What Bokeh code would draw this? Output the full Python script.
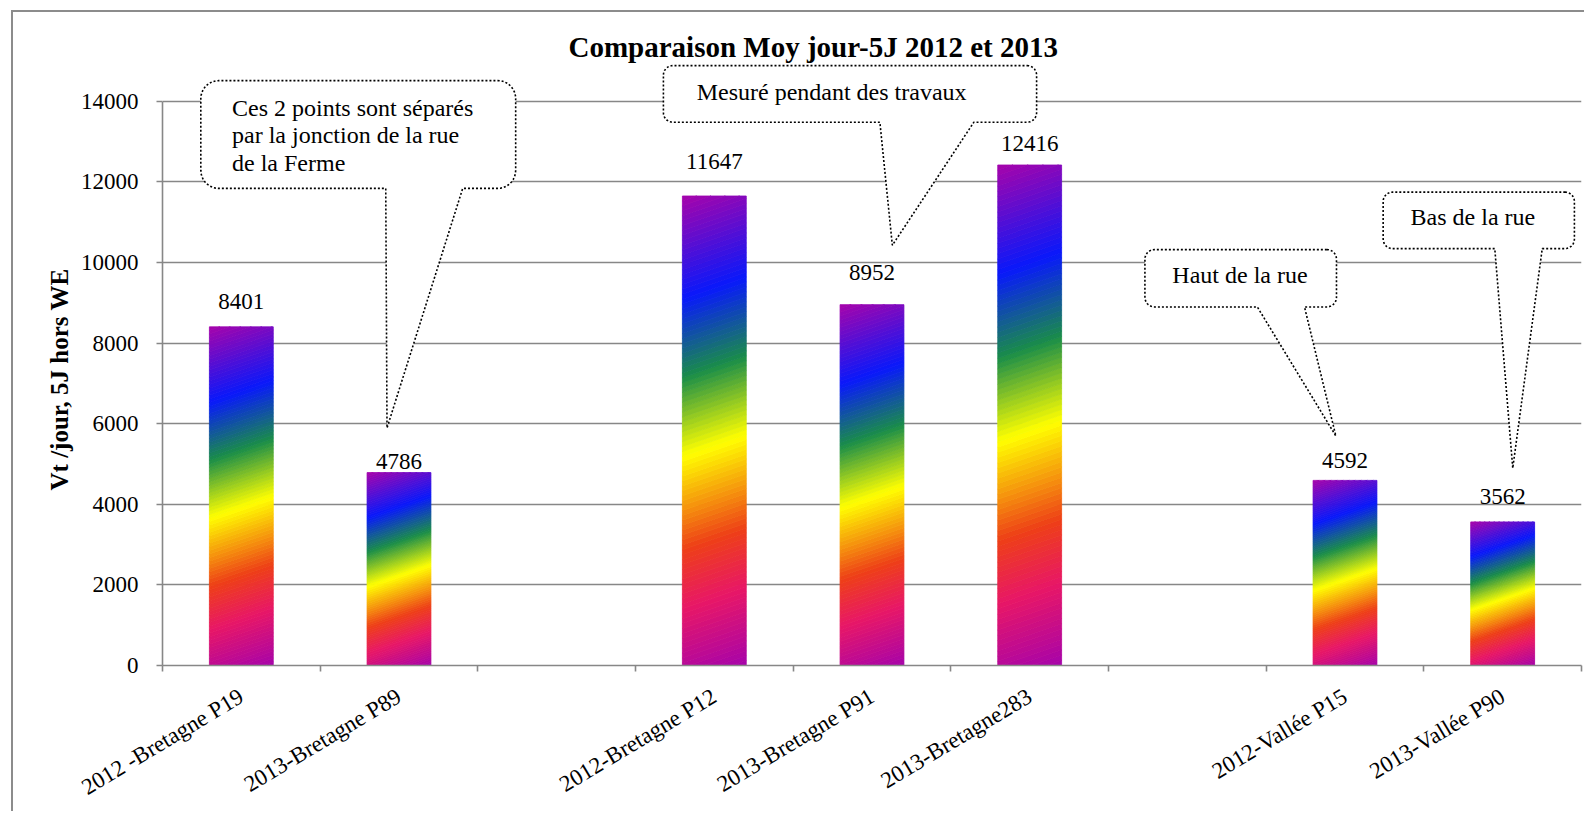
import numpy as np
from bokeh.plotting import figure
from bokeh.models import Range1d, FixedTicker, ColumnDataSource, LabelSet, Title
from bokeh.embed import file_html
from bokeh.resources import INLINE
from bokeh.core.properties import value

# ---------------- data ----------------
categories = ["2012 -Bretagne P19", "2013-Bretagne P89", "", "2012-Bretagne P12",
              "2013-Bretagne P91", "2013-Bretagne283", "", "2012-Vallée P15", "2013-Vallée P90"]
values = [8401, 4786, None, 11647, 8952, 12416, None, 4592, 3562]
y_tick_values = [0, 2000, 4000, 6000, 8000, 10000, 12000, 14000]
title_text = "Comparaison Moy jour-5J 2012 et 2013"
y_axis_label = "Vt /jour, 5J hors WE"

# callout texts (annotations)
callout_texts = [
    ["Ces 2 points sont séparés", "par la jonction de la  rue", "de la Ferme"],
    ["Mesuré pendant des travaux"],
    ["Haut de la rue"],
    ["Bas de la rue"],
]

# ---------------- layout / style ----------------
FONT = "Liberation Serif"
GRID = "#878787"
W, H = 1573, 801
MB_L, MB_R, MB_T, MB_B = 149, 5, 50, 147
x_start, x_end = 0.5, len(categories) + 0.5
px_per_x = (W - MB_L - MB_R) / (x_end - x_start)
px_per_y = 565.3 / 14000.0
y_end = (H - MB_T - MB_B) / px_per_y
bar_w = 0.405
tilt = 22 / px_per_y            # gradient tilt (px -> data)
label_lift = [18, 4, None, 27, 25, 14, None, 12, 18]   # px above bar top

stop_pos = [0.0, 0.16, 0.28, 0.47, 0.63, 0.79, 1.0]
stop_col = ["#A603AB", "#E81766", "#EE3F17", "#FFFF00", "#1A8D48", "#0819FB", "#A603AB"]

# callout geometry (box x0,x1,y0,y1 ; tail base xl,xr ; tip x,y ; text x, first baseline y)
callout_geom = [
    dict(box=(0.743, 2.740, 11835, 14510), tail=(1.916, 2.404), tip=(1.924, 5892), txt=(0.941, 13643)),
    dict(box=(3.677, 6.044, 13477, 14881), tail=(5.050, 5.646), tip=(5.129, 10424), txt=(3.888, 14032)),
    dict(box=(6.731, 7.946, 8895, 10317), tail=(7.444, 7.743), tip=(7.942, 5693), txt=(6.905, 9490)),
    dict(box=(8.242, 9.455, 10342, 11743), tail=(8.950, 9.251), tip=(9.064, 4894), txt=(8.416, 10919)),
]
line_step_px = 27.5


def hex2rgb(h):
    h = h.lstrip("#")
    return np.array([int(h[i:i + 2], 16) for i in (0, 2, 4)], dtype=float)


stop_rgb = [hex2rgb(c) for c in stop_col]


def grad_color(s):
    for k in range(len(stop_pos) - 1):
        if stop_pos[k] <= s <= stop_pos[k + 1]:
            t = (s - stop_pos[k]) / (stop_pos[k + 1] - stop_pos[k])
            c = stop_rgb[k] * (1 - t) + stop_rgb[k + 1] * t
            return "#%02x%02x%02x" % tuple(int(round(v)) for v in c)
    return stop_col[-1]


def clip_y(poly, c, keep_above):
    out = []
    n = len(poly)
    for i in range(n):
        p1 = poly[i]
        p2 = poly[(i + 1) % n]
        in1 = p1[1] >= c if keep_above else p1[1] <= c
        in2 = p2[1] >= c if keep_above else p2[1] <= c
        if in1:
            out.append(p1)
        if in1 != in2:
            t = (c - p1[1]) / (p2[1] - p1[1])
            out.append((p1[0] + t * (p2[0] - p1[0]), c))
    return out


# ---------------- figure ----------------
p = figure(width=W, height=H, x_range=Range1d(x_start, x_end), y_range=Range1d(0, y_end),
           output_backend="svg", toolbar_location=None,
           min_border_left=MB_L, min_border_right=MB_R, min_border_top=MB_T, min_border_bottom=MB_B,
           outline_line_color=None, background_fill_color="white", border_fill_color="white",
           title=title_text)
p.styles = {"border-left": "2px solid #8c8c8c", "border-top": "2px solid #8c8c8c",
            "margin-left": "11px", "margin-top": "10px"}

p.title.align = "left"
p.title.offset = 406
p.title.standoff = 0
p.title.text_font = FONT
p.title.text_font_size = "29px"
p.title.text_font_style = "bold"
p.title.text_color = "black"

# gradient bars
xs, ys, cols = [], [], []
N = 100
for i, v in enumerate(values):
    if v is None:
        continue
    xc = i + 1
    x0, x1 = xc - bar_w / 2, xc + bar_w / 2
    L = v + tilt
    for k in range(N):
        sa, sb = k / N, (k + 1) / N
        a, b = sa * L, sb * L
        poly = [(x0, a - tilt), (x1, a), (x1, b), (x0, b - tilt)]
        poly = clip_y(poly, 0.0, True)
        if len(poly) < 3:
            continue
        poly = clip_y(poly, float(v), False)
        if len(poly) < 3:
            continue
        xs.append([q[0] for q in poly])
        ys.append([q[1] for q in poly])
        cols.append(grad_color((sa + sb) / 2))

p.patches(xs=xs, ys=ys, fill_color=cols, line_color=cols, line_width=0.8)

bar_x = [i + 1 for i, v in enumerate(values) if v is not None]
bar_v = [v for v in values if v is not None]
p.vbar(x=bar_x, top=bar_v, width=bar_w, fill_alpha=0, line_alpha=0)

# data labels
lab_src = ColumnDataSource(dict(
    x=bar_x, y=bar_v, t=[str(v) for v in bar_v],
    off=[label_lift[i] for i, v in enumerate(values) if v is not None]))
p.add_layout(LabelSet(x="x", y="y", text="t", y_offset="off", source=lab_src, text_align="center",
                      text_baseline="alphabetic", text_font=value(FONT), text_font_size="23px",
                      text_color="black"))

# callouts
for geom, lines in zip(callout_geom, callout_texts):
    bx0, bx1, by0, by1 = geom["box"]
    tl, tr = geom["tail"]
    tx, ty = geom["tip"]
    wpx = (bx1 - bx0) * px_per_x
    hpx = (by1 - by0) * px_per_y
    rpx = 0.1667 * min(wpx, hpx)
    rx, ry = rpx / px_per_x, rpx / px_per_y
    pts = []

    def arc(cx, cy, a0, a1):
        for a in np.linspace(a0, a1, 10):
            pts.append((cx + rx * np.cos(a), cy + ry * np.sin(a)))

    arc(bx1 - rx, by1 - ry, np.pi / 2, 0)
    arc(bx1 - rx, by0 + ry, 0, -np.pi / 2)
    pts.append((tr, by0))
    pts.append((tx, ty))
    pts.append((tl, by0))
    arc(bx0 + rx, by0 + ry, -np.pi / 2, -np.pi)
    arc(bx0 + rx, by1 - ry, np.pi, np.pi / 2)
    p.patch([q[0] for q in pts], [q[1] for q in pts], fill_color="white",
            line_color="black", line_width=1.6, line_dash="2 2")
    txx, tyy = geom["txt"]
    csrc = ColumnDataSource(dict(x=[txx] * len(lines), y=[tyy] * len(lines), t=lines,
                                 off=[-j * line_step_px for j in range(len(lines))]))
    p.add_layout(LabelSet(x="x", y="y", text="t", y_offset="off", source=csrc,
                          text_align="left", text_baseline="alphabetic", text_font=value(FONT),
                          text_font_size="24px", text_color="black"))

# axes
xt = FixedTicker(ticks=[i + 1 for i, c in enumerate(categories) if c],
                 minor_ticks=[i + 0.5 for i in range(len(categories) + 1)])
p.xaxis.ticker = xt
p.xaxis.major_label_overrides = {i + 1: c for i, c in enumerate(categories) if c}
p.xaxis.major_tick_out = 0
p.xaxis.major_tick_in = 0
p.xaxis.minor_tick_out = 6
p.xaxis.minor_tick_in = 0
p.xaxis.minor_tick_line_color = GRID
p.xaxis.minor_tick_line_width = 1.6
p.xaxis.axis_line_color = GRID
p.xaxis.axis_line_width = 1.6
p.xaxis.major_label_orientation = 0.54
p.xaxis.major_label_standoff = 23
p.xaxis.major_label_text_font = FONT
p.xaxis.major_label_text_font_size = "23px"
p.xaxis.major_label_text_color = "black"
p.xgrid.visible = False

yt = FixedTicker(ticks=y_tick_values, minor_ticks=[])
p.yaxis.ticker = yt
p.yaxis.bounds = (0, 14000)
p.yaxis.major_tick_out = 6
p.yaxis.major_tick_in = 0
p.yaxis.minor_tick_out = 0
p.yaxis.minor_tick_in = 0
p.yaxis.major_tick_line_color = GRID
p.yaxis.major_tick_line_width = 1.6
p.yaxis.axis_line_color = GRID
p.yaxis.axis_line_width = 1.6
p.yaxis.major_label_standoff = 18
p.yaxis.major_label_text_font = FONT
p.yaxis.major_label_text_font_size = "23px"
p.yaxis.major_label_text_color = "black"
p.ygrid.ticker = yt
p.ygrid.grid_line_color = GRID
p.ygrid.grid_line_width = 1.6

# y axis title (placed beside the axis, centred on the 0-14000 span)
ylab = Title(text=y_axis_label, align="left", offset=175, standoff=10,
             text_font=FONT, text_font_size="25px", text_font_style="bold", text_color="black")
p.add_layout(ylab, "left")

open("out.html", "w").write(file_html(p, INLINE))
